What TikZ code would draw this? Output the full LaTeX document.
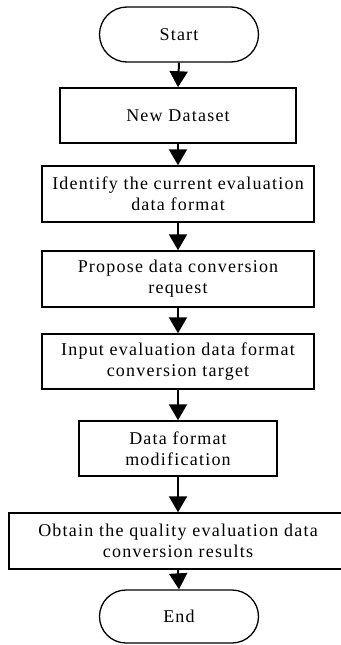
\documentclass[tikz,border=0pt]{standalone}
\usepackage{fontspec}
\setmainfont{Liberation Serif}[LetterSpace=6.8]
\usetikzlibrary{arrows.meta,shapes.misc}
\tikzset{
  box/.style={draw, line width=1.5pt, rectangle, align=center, inner sep=0pt,
    font=\fontsize{18}{21}\selectfont},
  term/.style={draw, line width=1.3pt, rounded rectangle, align=center, inner sep=0pt,
    font=\fontsize{18}{21}\selectfont},
  flow/.style={line width=2pt, -{Triangle[width=18pt,length=16pt]}}
}
\begin{document}
\begin{tikzpicture}[x=1pt,y=-1pt]
\useasboundingbox (0,0) rectangle (340,645);
\node[term, minimum width=159pt, minimum height=55pt] (start) at (179,34.5) {Start};
\node[box, minimum width=236pt, minimum height=55pt] (new) at (178,115.5) {New Dataset};
\node[box, minimum width=272pt, minimum height=56pt] (ident) at (178,194) {Identify the current evaluation\\data format};
\node[box, minimum width=272pt, minimum height=56pt] (prop) at (178,279) {Propose data conversion\\request};
\node[box, minimum width=272pt, minimum height=55pt] (input) at (178,361.5) {Input evaluation data format\\conversion target};
\node[box, minimum width=198pt, minimum height=55pt] (mod) at (178,448.5) {Data format\\modification};
\node[box, minimum width=338pt, minimum height=56pt] (obt) at (178,541) {Obtain the quality evaluation data\\conversion results};
\node[term, minimum width=159pt, minimum height=53pt] (end) at (179,616.5) {End};
\draw[flow] (start.south) -- (new.north);
\draw[flow] (new.south) -- (ident.north);
\draw[flow] (ident.south) -- (prop.north);
\draw[flow] (prop.south) -- (input.north);
\draw[flow] (input.south) -- (mod.north);
\draw[flow] (mod.south) -- (obt.north);
\draw[flow] (obt.south) -- (end.north);
\end{tikzpicture}
\end{document}
